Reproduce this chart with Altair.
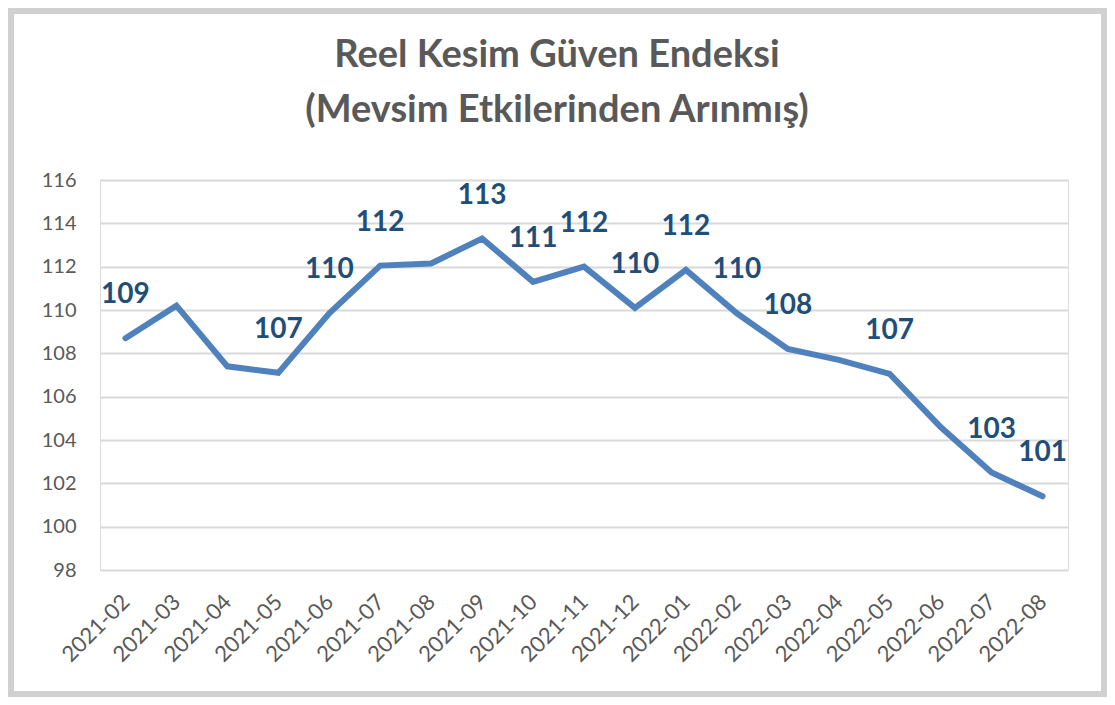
import altair as alt
import pandas as pd

months = ["2021-02", "2021-03", "2021-04", "2021-05", "2021-06", "2021-07", "2021-08",
          "2021-09", "2021-10", "2021-11", "2021-12", "2022-01", "2022-02", "2022-03",
          "2022-04", "2022-05", "2022-06", "2022-07", "2022-08"]
values = [108.7, 110.2, 107.4, 107.1, 109.85, 112.05, 112.15, 113.3, 111.3, 112.0,
          110.1, 111.85, 109.85, 108.2, 107.7, 107.05, 104.6, 102.5, 101.4]
labels = ["109", "", "", "107", "110", "112", "", "113", "111", "112",
          "110", "112", "110", "108", "", "107", "", "103", "101"]
y_ticks = [98, 100, 102, 104, 106, 108, 110, 112, 114, 116]
title_lines = ["Reel Kesim Güven Endeksi", "(Mevsim Etkilerinden Arınmış)"]

df = pd.DataFrame({"month": months, "value": values, "label": labels})

FONT = "Lato"
GREY = "#595959"
W, H = 968, 390
PAD = {"left": 92, "top": 172, "right": 39, "bottom": 127}

x_enc = alt.X("month:O", sort=months,
              scale=alt.Scale(type="point", padding=0.5),
              axis=alt.Axis(title=None, labelAngle=-45, labelAlign="right",
                            labelBaseline="middle", labelPadding=28,
                            labelFontSize=22, labelColor=GREY, labelFont=FONT,
                            domain=False, ticks=False, grid=False))
y_enc = alt.Y("value:Q", scale=alt.Scale(domain=[98, 116], nice=False, zero=False),
              axis=alt.Axis(title=None, values=y_ticks, labelFontSize=20,
                            labelColor=GREY, labelFont=FONT, labelPadding=24,
                            domain=False, ticks=False, grid=True,
                            gridColor="#d9d9d9", gridWidth=2))

# decorative outer frame around the chart box
frame = alt.Chart(pd.DataFrame({"f": [0]})).mark_rect(
    fill=None, stroke="#d0d0d0", strokeWidth=6
).encode(x=alt.value(-PAD["left"] + 3), x2=alt.value(W + PAD["right"] - 3),
         y=alt.value(-PAD["top"] + 3), y2=alt.value(H + PAD["bottom"] - 3))

line = alt.Chart(df).mark_line(color="#4f81bd", strokeWidth=6, strokeJoin="miter",
                               strokeCap="round").encode(x=x_enc, y=y_enc)

text = alt.Chart(df).transform_filter("datum.label != ''").mark_text(
    font=FONT, fontSize=28, fontWeight="bold", color="#1f4e79",
    baseline="middle", align="center", dy=-43
).encode(x=alt.X("month:O", sort=months), y="value:Q", text="label:N")

chart = alt.layer(frame, line, text).properties(
    width=W, height=H,
    title=alt.TitleParams(text=title_lines, font=FONT, fontSize=38, fontWeight="bold",
                          color=GREY, anchor="middle", lineHeight=55, offset=-122,
                          dx=-27),
    autosize=alt.AutoSizeParams(type="none"),
    padding=PAD,
).configure_view(stroke=None).configure(background="white")

chart.save("out.html", embed_options={"renderer": "svg", "actions": False})
